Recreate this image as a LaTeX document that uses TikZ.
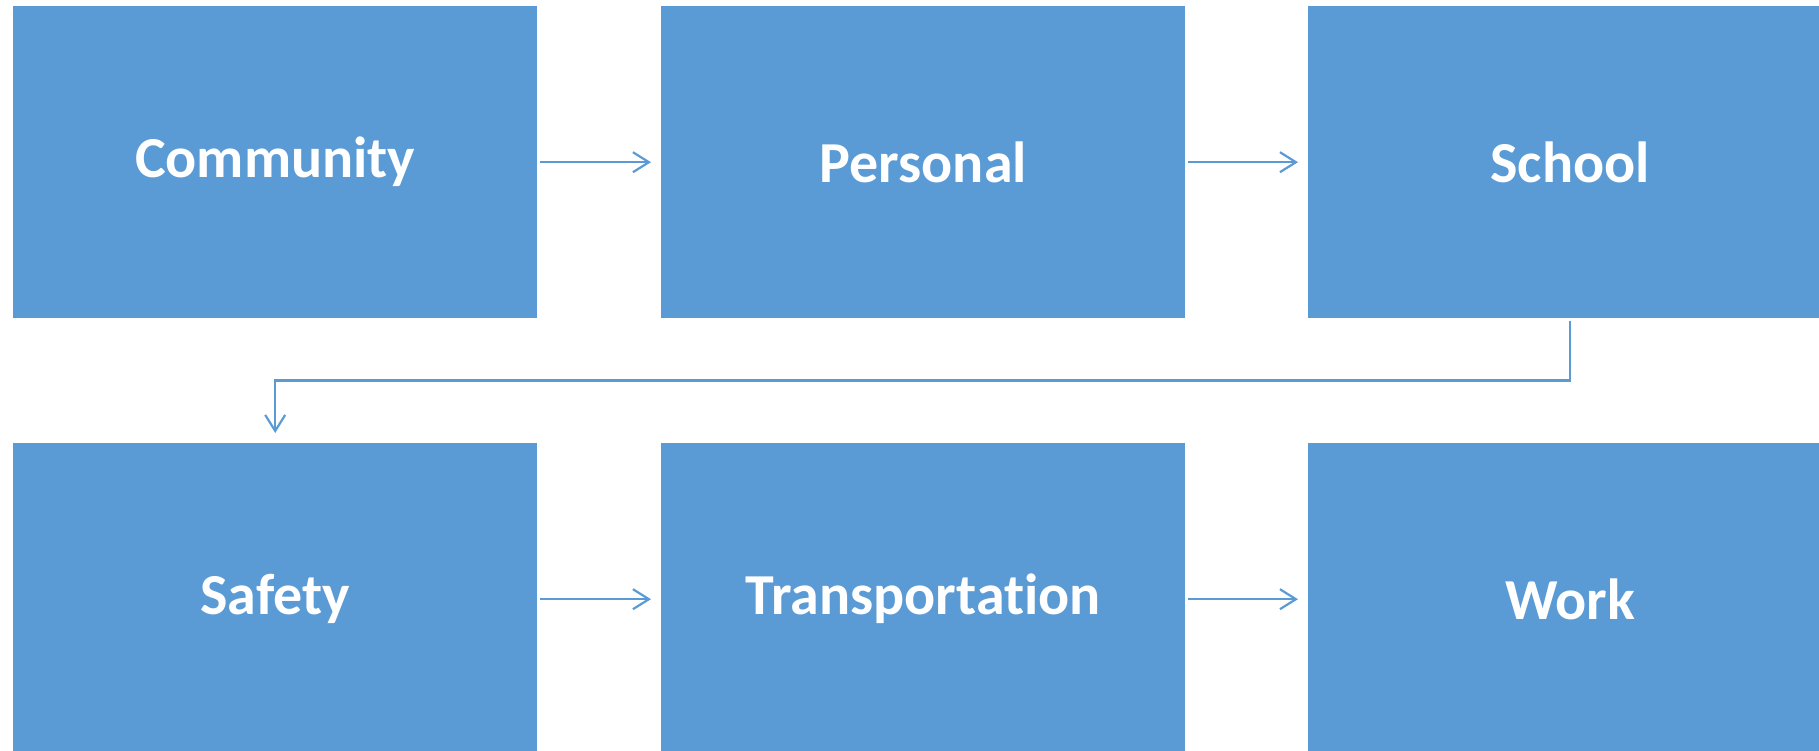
\documentclass[tikz,border=0pt]{standalone}
\usepackage{fontspec}
\setmainfont{Carlito}[Ligatures={NoCommon,NoDiscretionary,NoContextual}]
\usetikzlibrary{arrows.meta}
\definecolor{boxblue}{HTML}{5B9BD5}
\tikzset{
  card/.style={fill=boxblue, draw=none, minimum width=524pt, minimum height=312pt,
    inner sep=0pt, anchor=north west, text=white,
    font=\fontsize{58}{60}\selectfont\bfseries},
  link/.style={draw=boxblue, line width=2.2pt,
    -{Straight Barb[length=16pt,width=20pt,line width=2.2pt]},
    shorten <=3pt, shorten >=10pt}
}
\begin{document}
\begin{tikzpicture}
\useasboundingbox (0pt,0pt) rectangle (1819pt,-751pt);
\clip (0pt,0pt) rectangle (1819pt,-751pt);
\node[card] (community) at (13pt,-6pt) {Community};
\node[card] (personal) at (661pt,-6pt) {Personal};
\node[card] (school) at (1308pt,-6pt) {School};
\node[card] (safety) at (13pt,-443pt) {Safety};
\node[card] (transport) at (661pt,-443pt) {Transportation};
\node[card] (work) at (1308pt,-443pt) {Work};
\draw[link] (community.east) -- (personal.west);
\draw[link] (personal.east) -- (school.west);
\draw[link] (safety.east) -- (transport.west);
\draw[link] (transport.east) -- (work.west);
\coordinate (bend) at ([yshift=-62pt]school.south);
\draw[link] (school.south) -- (bend) -| (safety.north);
\end{tikzpicture}
\end{document}
